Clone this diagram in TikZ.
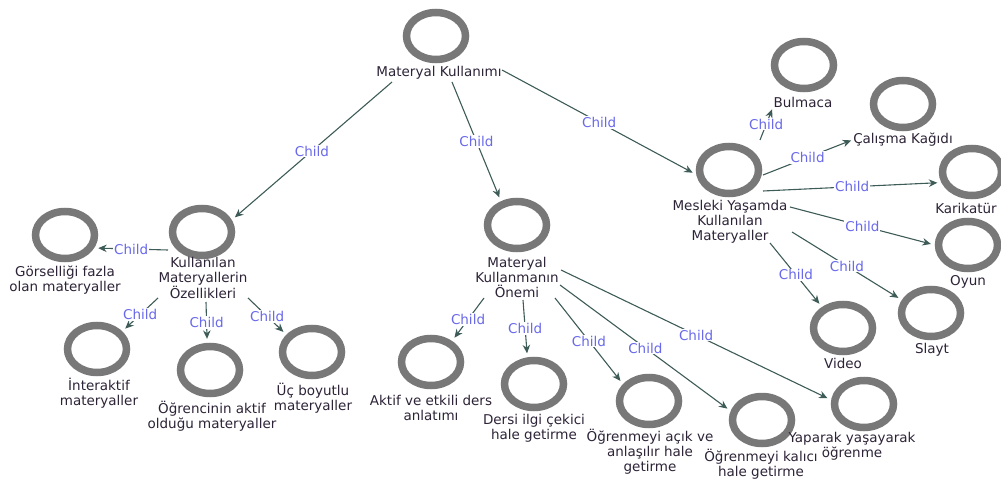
\documentclass[tikz,border=0pt]{standalone}
\usepackage{fontspec}
\setmainfont{DejaVu Sans}
\usetikzlibrary{shapes.geometric,arrows.meta}
\definecolor{ringgray}{RGB}{120,120,120}
\definecolor{edgecol}{RGB}{62,92,87}
\definecolor{childcol}{RGB}{105,105,235}
\definecolor{txtcol}{RGB}{45,35,55}
\tikzset{
  ring/.style={ellipse,draw=ringgray,line width=7.5pt,minimum width=59pt,minimum height=47pt,inner sep=0pt},
  lab/.style={align=center,text=txtcol,inner sep=1pt,font=\fontsize{13.5}{15}\selectfont},
  conn/.style={draw=edgecol,line width=1.1pt,-{Stealth[length=8.5pt,width=7.5pt]},shorten >=4pt},
  childlab/.style={fill=white,text=childcol,inner sep=1pt,font=\fontsize{13.5}{15}\selectfont}
}
\begin{document}
\begin{tikzpicture}[x=1pt,y=-1pt]
\useasboundingbox (0,0) rectangle (1001,484);
% circles
\node[ring] (c0) at (436,36) {};
\node[ring] (c1) at (202,232) {};
\node[ring] (c2) at (65,235) {};
\node[ring] (c3) at (97,349) {};
\node[ring] (c4) at (210,370) {};
\node[ring] (c5) at (312,352) {};
\node[ring] (c6) at (517,225) {};
\node[ring] (c7) at (431,362) {};
\node[ring] (c8) at (534,384) {};
\node[ring] (c9) at (649,401) {};
\node[ring] (c10) at (762,420) {};
\node[ring] (c11) at (864,404) {};
\node[ring] (c12) at (729,170) {};
\node[ring] (c13) at (804,65) {};
\node[ring] (c14) at (903,104) {};
\node[ring] (c15) at (972,172) {};
\node[ring] (c16) at (968,245) {};
\node[ring] (c17) at (931,313) {};
\node[ring] (c18) at (843,328) {};
% labels
\node[lab] (l0) at (439,73) {Materyal Kullanımı};
\node[lab] (l1) at (203,278) {Kullanılan\\Materyallerin\\Özellikleri};
\node[lab] (l2) at (65,280) {Görselliği fazla\\olan materyaller};
\node[lab] (l3) at (99,393) {İnteraktif\\materyaller};
\node[lab] (l4) at (212,416) {Öğrencinin aktif\\olduğu materyaller};
\node[lab] (l5) at (313,398) {Üç boyutlu\\materyaller};
\node[lab] (l6) at (517,277) {Materyal\\Kullanmanın\\Önemi};
\node[lab] (l7) at (431,408) {Aktif ve etkili ders\\anlatımı};
\node[lab] (l8) at (534,428) {Dersi ilgi çekici\\hale getirme};
\node[lab] (l9) at (650,452) {Öğrenmeyi açık ve\\anlaşılır hale\\getirme};
\node[lab] (l10) at (761,464) {Öğrenmeyi kalıcı\\hale getirme};
\node[lab] (l11) at (852,446) {Yaparak yaşayarak\\öğrenme};
\node[lab] (l12) at (730,222) {Mesleki Yaşamda\\Kullanılan\\Materyaller};
\node[lab] (l13) at (803,102) {Bulmaca};
\node[lab] (l14) at (903,140) {Çalışma Kağıdı};
\node[lab] (l15) at (966,208) {Karikatür};
\node[lab] (l16) at (968,282) {Oyun};
\node[lab] (l17) at (932,350) {Slayt};
\node[lab] (l18) at (843,363) {Video};
% start points
\coordinate (s1) at (392,82);
\coordinate (s2) at (452,82);
\coordinate (s3) at (502,70);
\coordinate (s4) at (168,250);
\coordinate (s5) at (158,298);
\coordinate (s6) at (206,302);
\coordinate (s7) at (248,298);
\coordinate (s8) at (484,298);
\coordinate (s9) at (523,300);
\coordinate (s10) at (555,298);
\coordinate (s11) at (560,285);
\coordinate (s12) at (561,270);
\coordinate (s13) at (760,140);
\coordinate (s14) at (763,175);
\coordinate (s15) at (763,191);
\coordinate (s16) at (790,207);
\coordinate (s17) at (770,243);
\coordinate (s18) at (792,232);
% connectors
\draw[conn] (s1) -- node[childlab]{Child} (c1.22);
\draw[conn] (s2) -- node[childlab]{Child} (c6.124);
\draw[conn] (s3) -- node[childlab]{Child} (c12.188);
\draw[conn] (s4) -- node[childlab]{Child} (c2.-24);
\draw[conn] (s5) -- node[childlab]{Child} (c3.35);
\draw[conn] (s6) -- node[childlab]{Child} (c4.96);
\draw[conn] (s7) -- node[childlab]{Child} (c5.146);
\draw[conn] (s8) -- node[childlab]{Child} (c7.45);
\draw[conn] (s9) -- node[childlab]{Child} (c8.104);
\draw[conn] (s10) -- node[childlab]{Child} (c9.147);
\draw[conn] (s11) -- node[childlab]{Child} (c10.164);
\draw[conn] (s12) -- node[childlab]{Child} (c11.173);
\draw[conn,shorten >=1pt] (s13) -- node[childlab]{Child} (l13.south west);
\draw[conn,shorten >=1pt] (s14) -- node[childlab]{Child} (l14.west);
\draw[conn] (s15) -- node[childlab]{Child} (c15.199);
\draw[conn] (s16) -- node[childlab]{Child} (c16.180);
\draw[conn] (s17) -- node[childlab]{Child} (c18.135);
\draw[conn] (s18) -- node[childlab]{Child} (c17.156);
\end{tikzpicture}
\end{document}
